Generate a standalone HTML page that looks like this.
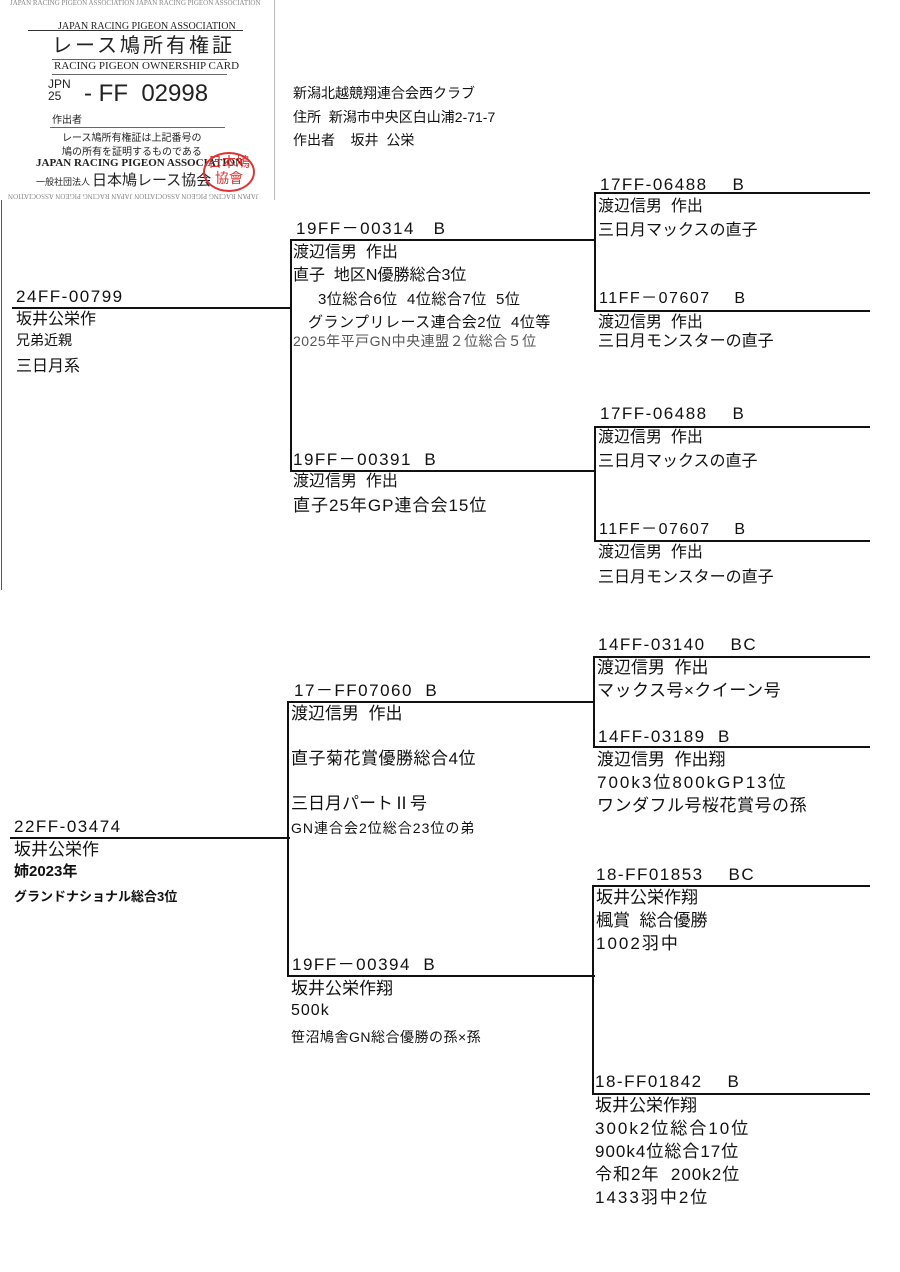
<!DOCTYPE html>
<html><head><meta charset="utf-8">
<style>
body{margin:0;width:900px;height:1272px;background:#fff;position:relative;overflow:hidden;font-family:"Liberation Sans","Noto Sans CJK JP",sans-serif;color:#111}
.t{position:absolute;white-space:nowrap;line-height:1}
.id{font-size:17px;letter-spacing:1.5px}
.s{font-size:16px}
.n{letter-spacing:2px}
.h{position:absolute;background:#111;height:2px}
.v{position:absolute;background:#111;width:2px}
.card{position:absolute;left:0;top:0;width:274px;height:200px;border-right:1px solid #bbb;font-family:"Liberation Serif","Noto Serif CJK SC",serif;color:#222}
</style></head><body>
<div class="card">
<div class="t" style="left:10px;top:0;font-size:7px;color:#888">JAPAN RACING PIGEON ASSOCIATION JAPAN RACING PIGEON ASSOCIATION</div>
<div class="t" style="left:8px;top:192px;font-size:7px;color:#888;transform:rotate(180deg)">JAPAN RACING PIGEON ASSOCIATION JAPAN RACING PIGEON ASSOCIATION</div>
<div class="t" style="left:58px;top:22px;font-size:10px">JAPAN RACING PIGEON ASSOCIATION</div>
<div style="position:absolute;left:28px;top:30px;width:215px;height:1px;background:#333"></div>
<div class="t" style="left:52px;top:34px;font-size:20px;letter-spacing:3px;font-family:'Noto Sans CJK JP',sans-serif">レース鳩所有権証</div>
<div style="position:absolute;left:52px;top:59px;width:175px;height:1px;background:#666"></div>
<div class="t" style="left:54px;top:61px;font-size:11px">RACING PIGEON OWNERSHIP CARD</div>
<div style="position:absolute;left:52px;top:74px;width:175px;height:1px;background:#666"></div>
<div class="t" style="left:48px;top:78px;font-size:12px;font-family:'Liberation Sans',sans-serif;line-height:12px">JPN<br>25</div>
<div class="t" style="left:84px;top:82px;font-size:24px;font-family:'Liberation Sans',sans-serif">-&nbsp;FF&nbsp;&nbsp;02998</div>
<div class="t" style="left:52px;top:114px;font-size:10px;font-family:'Noto Sans CJK JP',sans-serif">作出者</div>
<div style="position:absolute;left:50px;top:127px;width:175px;height:1px;background:#666"></div>
<div class="t" style="left:62px;top:130px;font-size:10px;line-height:14px;font-family:'Noto Sans CJK JP',sans-serif">レース鳩所有権証は上記番号の<br>鳩の所有を証明するものである</div>
<div class="t" style="left:36px;top:158px;font-size:11px;font-weight:bold">JAPAN RACING PIGEON ASSOCIATION</div>
<div class="t" style="left:36px;top:172px;font-size:9px;font-family:'Noto Sans CJK JP',sans-serif">一般社団法人 <span style="font-size:15px">日本鳩レース協会</span></div>
<div style="position:absolute;left:203px;top:152px;width:48px;height:36px;border:2px solid #d33;border-radius:50%;color:#d33;font-size:14px;text-align:center;line-height:16px;font-family:'Noto Sans CJK JP',sans-serif">日本鳩<br>協會</div>
</div>

<div class="t" style="left:293px;top:86px;font-size:14px">新潟北越競翔連合会西クラブ</div>
<div class="t" style="left:293px;top:110px;font-size:14px">住所&nbsp;&nbsp;新潟市中央区白山浦2-71-7</div>
<div class="t" style="left:293px;top:133px;font-size:14px">作出者&nbsp;&nbsp;&nbsp;&nbsp;坂井&nbsp;&nbsp;公栄</div>

<div class="v" style="left:1px;top:200px;height:390px;width:1px;background:#555"></div>
<div class="h" style="left:12px;top:307px;width:280px"></div>
<div class="v" style="left:290px;top:239px;height:233px"></div>
<div class="h" style="left:290px;top:239px;width:306px"></div>
<div class="h" style="left:290px;top:470px;width:306px"></div>
<div class="v" style="left:594px;top:192px;height:120px"></div>
<div class="h" style="left:594px;top:192px;width:276px"></div>
<div class="h" style="left:594px;top:310px;width:276px"></div>
<div class="v" style="left:594px;top:426px;height:116px"></div>
<div class="h" style="left:594px;top:426px;width:276px"></div>
<div class="h" style="left:594px;top:540px;width:276px"></div>

<div class="h" style="left:10px;top:837px;width:280px"></div>
<div class="v" style="left:287px;top:701px;height:276px"></div>
<div class="h" style="left:287px;top:701px;width:308px"></div>
<div class="h" style="left:287px;top:975px;width:308px"></div>
<div class="v" style="left:593px;top:656px;height:92px"></div>
<div class="h" style="left:593px;top:656px;width:277px"></div>
<div class="h" style="left:593px;top:746px;width:277px"></div>
<div class="v" style="left:592px;top:885px;height:210px"></div>
<div class="h" style="left:592px;top:885px;width:278px"></div>
<div class="h" style="left:592px;top:1093px;width:278px"></div>

<div class="t id" style="left:16px;top:288px">24FF-00799</div>
<div class="t s" style="left:16px;top:312px">坂井公栄作</div>
<div class="t" style="left:16px;top:333px;font-size:14px">兄弟近親</div>
<div class="t s" style="left:16px;top:359px">三日月系</div>

<div class="t id" style="left:296px;top:220px">19FF－00314&nbsp;&nbsp;&nbsp;B</div>
<div class="t s" style="left:293px;top:245px">渡辺信男&nbsp;&nbsp;作出</div>
<div class="t s" style="left:293px;top:268px">直子&nbsp;&nbsp;地区N優勝総合3位</div>
<div class="t" style="left:318px;top:292px;font-size:15px;letter-spacing:0.5px">3位総合6位&nbsp;&nbsp;4位総合7位&nbsp;&nbsp;5位</div>
<div class="t" style="left:308px;top:315px;font-size:15px;letter-spacing:0.5px">グランプリレース連合会2位&nbsp;&nbsp;4位等</div>
<div class="t" style="left:293px;top:334px;font-size:14px;color:#555;letter-spacing:0.5px">2025年平戸GN中央連盟２位総合５位</div>

<div class="t id" style="left:293px;top:451px">19FF－00391&nbsp;&nbsp;B</div>
<div class="t s" style="left:293px;top:474px">渡辺信男&nbsp;&nbsp;作出</div>
<div class="t n" style="left:293px;top:497px;font-size:17px;letter-spacing:1px">直子25年GP連合会15位</div>

<div class="t id" style="left:600px;top:176px">17FF-06488&nbsp;&nbsp;&nbsp;&nbsp;B</div>
<div class="t s" style="left:598px;top:199px">渡辺信男&nbsp;&nbsp;作出</div>
<div class="t s" style="left:598px;top:223px">三日月マックスの直子</div>
<div class="t" style="left:599px;top:291px;font-size:16px;letter-spacing:1.5px">11FF－07607&nbsp;&nbsp;&nbsp;&nbsp;B</div>
<div class="t s" style="left:598px;top:315px">渡辺信男&nbsp;&nbsp;作出</div>
<div class="t s" style="left:598px;top:334px">三日月モンスターの直子</div>

<div class="t id" style="left:600px;top:405px">17FF-06488&nbsp;&nbsp;&nbsp;&nbsp;B</div>
<div class="t s" style="left:598px;top:430px">渡辺信男&nbsp;&nbsp;作出</div>
<div class="t s" style="left:598px;top:454px">三日月マックスの直子</div>
<div class="t" style="left:599px;top:522px;font-size:16px;letter-spacing:1.5px">11FF－07607&nbsp;&nbsp;&nbsp;&nbsp;B</div>
<div class="t s" style="left:598px;top:545px">渡辺信男&nbsp;&nbsp;作出</div>
<div class="t s" style="left:598px;top:570px">三日月モンスターの直子</div>

<div class="t id" style="left:14px;top:818px">22FF-03474</div>
<div class="t" style="left:14px;top:841px;font-size:17px">坂井公栄作</div>
<div class="t" style="left:14px;top:864px;font-size:15px;font-weight:bold">姉2023年</div>
<div class="t" style="left:14px;top:890px;font-size:13px;font-weight:bold">グランドナショナル総合3位</div>

<div class="t id" style="left:294px;top:682px">17－FF07060&nbsp;&nbsp;B</div>
<div class="t" style="left:291px;top:705px;font-size:17px">渡辺信男&nbsp;&nbsp;作出</div>
<div class="t" style="left:291px;top:750px;font-size:17px;letter-spacing:0.5px">直子菊花賞優勝総合4位</div>
<div class="t" style="left:291px;top:795px;font-size:17px">三日月パートⅡ号</div>
<div class="t" style="left:291px;top:821px;font-size:14px;letter-spacing:1px">GN連合会2位総合23位の弟</div>

<div class="t id" style="left:292px;top:956px">19FF－00394&nbsp;&nbsp;B</div>
<div class="t" style="left:291px;top:980px;font-size:17px">坂井公栄作翔</div>
<div class="t s" style="left:291px;top:1003px;letter-spacing:1px">500k</div>
<div class="t" style="left:291px;top:1030px;font-size:14px;letter-spacing:0.5px">笹沼鳩舎GN総合優勝の孫×孫</div>

<div class="t id" style="left:598px;top:636px">14FF-03140&nbsp;&nbsp;&nbsp;&nbsp;BC</div>
<div class="t" style="left:597px;top:659px;font-size:17px">渡辺信男&nbsp;&nbsp;作出</div>
<div class="t" style="left:597px;top:682px;font-size:17px;letter-spacing:0.5px">マックス号×クイーン号</div>
<div class="t id" style="left:598px;top:728px">14FF-03189&nbsp;&nbsp;B</div>
<div class="t" style="left:597px;top:751px;font-size:17px">渡辺信男&nbsp;&nbsp;作出翔</div>
<div class="t n" style="left:597px;top:774px;font-size:17px">700k3位800kGP13位</div>
<div class="t" style="left:597px;top:797px;font-size:17px;letter-spacing:0.5px">ワンダフル号桜花賞号の孫</div>

<div class="t id" style="left:596px;top:866px">18-FF01853&nbsp;&nbsp;&nbsp;&nbsp;BC</div>
<div class="t" style="left:596px;top:889px;font-size:17px">坂井公栄作翔</div>
<div class="t" style="left:596px;top:912px;font-size:17px">楓賞&nbsp;&nbsp;総合優勝</div>
<div class="t n" style="left:596px;top:935px;font-size:17px">1002羽中</div>

<div class="t id" style="left:595px;top:1073px">18-FF01842&nbsp;&nbsp;&nbsp;&nbsp;B</div>
<div class="t" style="left:595px;top:1097px;font-size:17px">坂井公栄作翔</div>
<div class="t n" style="left:595px;top:1120px;font-size:17px">300k2位総合10位</div>
<div class="t" style="left:595px;top:1143px;font-size:17px;letter-spacing:1px">900k4位総合17位</div>
<div class="t" style="left:595px;top:1166px;font-size:17px;letter-spacing:1px">令和2年&nbsp;&nbsp;200k2位</div>
<div class="t n" style="left:595px;top:1189px;font-size:17px">1433羽中2位</div>
</body></html>
